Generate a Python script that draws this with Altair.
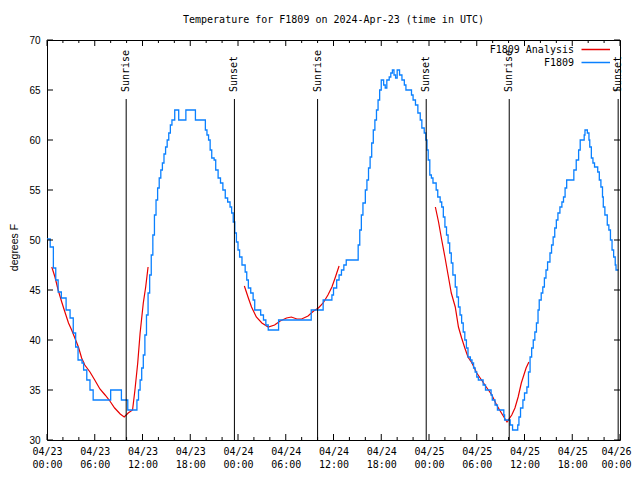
import altair as alt
import pandas as pd

# ---- data (hours since 2024-04-23 00:00 UTC) ----
obs_hours = [0.0, 0.4, 0.8, 1.1, 1.4, 1.8, 2.4, 2.9, 3.3, 3.6, 3.9, 4.4, 4.6, 5.0, 5.4, 5.8,
             8.0, 9.35, 10.15, 11.3, 11.5, 11.7, 11.9, 12.1, 12.3, 12.5, 12.7, 12.9, 13.1, 13.3,
             13.5, 13.7, 13.9, 14.1, 14.3, 14.5, 14.7, 14.9, 15.1, 15.3, 15.5, 15.7, 16.05, 16.55,
             17.45, 18.65, 19.9, 20.1, 20.3, 20.5, 20.7, 21.0, 21.2, 21.5, 21.8, 22.1, 22.4, 22.7,
             23.0, 23.2, 23.4, 23.6, 23.8, 24.0, 24.2, 24.5, 24.9, 25.1, 25.3, 25.6, 25.9, 26.1,
             26.85, 27.2, 27.5, 27.8, 29.1, 33.2, 34.7, 35.8, 36.0, 36.4, 36.7, 37.0, 37.3, 37.6,
             39.1, 39.3, 39.5, 39.7, 40.0, 40.2, 40.4, 40.6, 40.8, 41.0, 41.2, 41.4, 41.6, 41.8,
             42.0, 42.3, 42.5, 42.7, 43.0, 43.2, 43.4, 43.6, 43.8, 44.0, 44.3, 44.6, 44.9, 45.1,
             45.8, 46.0, 46.3, 46.6, 46.9, 47.1, 47.4, 47.6, 47.75, 47.9, 48.1, 48.3, 48.5, 48.9,
             49.1, 49.4, 49.6, 49.8, 50.0, 50.2, 50.4, 50.6, 50.8, 51.0, 51.3, 51.5, 51.7, 51.9,
             52.1, 52.3, 52.5, 52.7, 52.9, 53.2, 53.4, 53.6, 53.8, 54.0, 54.2, 54.8, 55.1, 55.8,
             55.95, 56.3, 56.6, 57.4, 57.5, 58.2, 58.5, 59.15, 59.3, 59.5, 59.8, 60.0, 60.3, 60.5,
             60.7, 60.9, 61.1, 61.3, 61.5, 61.7, 61.85, 62.1, 62.3, 62.5, 62.7, 62.9, 63.2, 63.4,
             63.6, 63.8, 64.0, 64.2, 64.45, 64.7, 64.9, 65.1, 65.3, 66.2, 66.5, 66.8, 67.0, 67.5,
             67.6, 67.9, 68.1, 68.2, 68.4, 68.6, 68.8, 69.2, 69.4, 69.6, 69.8, 69.9, 70.1, 70.4,
             70.6, 70.8, 71.0, 71.2, 71.4, 71.5, 71.8]
obs_temps = [50.1, 49.3, 47.2, 46.0, 44.8, 44.2, 43.0, 42.2, 40.7, 39.3, 38.0, 37.7, 37.0, 36.0, 35.0, 34.0,
             35.0, 34.0, 33.0, 34.0, 35.0, 36.0, 37.2, 38.5, 40.5, 42.5, 44.7, 46.5, 48.5, 50.5,
             52.5, 54.0, 55.2, 56.2, 57.0, 57.7, 58.6, 59.3, 60.0, 60.7, 61.5, 62.0, 63.0, 62.0,
             63.0, 62.0, 61.0, 60.5, 60.0, 59.0, 58.2, 58.0, 57.0, 56.2, 55.7, 55.0, 54.2, 53.8,
             53.3, 52.7, 51.8, 50.7, 49.8, 49.0, 48.3, 47.5, 46.8, 46.0, 45.2, 44.7, 44.0, 43.0,
             42.5, 42.0, 41.5, 41.0, 42.0, 43.0, 44.0, 44.5, 45.2, 46.0, 46.5, 47.0, 47.5, 48.0,
             49.5, 51.0, 52.5, 53.7, 55.0, 56.0, 57.2, 58.3, 59.7, 61.0, 62.0, 63.0, 64.0, 65.0,
             66.0, 65.5, 65.2, 66.0, 66.3, 66.7, 67.0, 66.5, 66.2, 67.0, 66.5, 66.0, 65.5, 65.0,
             64.5, 64.0, 63.5, 62.7, 62.0, 61.2, 60.7, 60.0, 59.0, 58.0, 56.5, 56.2, 55.7, 55.0,
             54.3, 53.8, 53.3, 52.3, 51.3, 50.5, 49.7, 48.7, 47.7, 46.5, 45.3, 44.3, 43.3, 42.5,
             41.7, 40.8, 40.0, 39.2, 38.3, 38.0, 37.7, 37.2, 36.8, 36.3, 36.0, 35.5, 35.0, 34.5,
             34.0, 33.5, 33.0, 32.5, 32.0, 31.5, 31.0, 31.5, 32.3, 33.2, 34.0, 34.7, 35.3, 36.8,
             38.3, 39.2, 40.0, 40.8, 41.7, 43.0, 44.0, 44.7, 45.3, 46.2, 47.0, 47.8, 48.7, 49.5,
             50.3, 51.2, 52.0, 52.7, 53.3, 53.8, 54.3, 55.2, 56.0, 57.0, 58.0, 59.0, 60.0, 60.5,
             61.0, 60.7, 60.0, 59.3, 58.2, 57.7, 57.3, 56.8, 56.0, 55.3, 54.3, 53.3, 52.5, 51.5,
             51.0, 50.0, 49.0, 48.3, 47.5, 47.0, 47.0]

ana_hours = [0.6, 1.0, 1.4, 1.85, 2.25, 2.7, 3.1, 3.5, 3.95, 4.35, 4.75, 5.4, 6.0, 6.65, 7.3, 7.9,
             8.5, 9.2, 9.7, 10.2, 10.75, 11.05, 11.4, 11.7, 12.1, 12.4, 12.7,
             24.8, 25.3, 25.7, 26.3, 27.0, 27.8, 28.6, 29.3, 30.1, 30.7, 31.4, 32.0, 32.8, 33.5,
             34.1, 34.7, 35.3, 35.8, 36.2, 36.7,
             48.8, 49.2, 49.6, 50.0, 50.4, 50.8, 51.3, 51.7, 52.1, 52.5, 52.9, 53.4, 54.0, 54.6,
             55.2, 55.9, 56.5, 57.1, 57.8, 58.4, 58.8, 59.2, 59.6, 60.2, 60.55]
ana_temps = [47.3, 46.3, 45.0, 43.8, 42.8, 41.7, 41.0, 40.2, 39.3, 38.2, 37.5, 36.8, 36.0, 35.1, 34.5, 33.9,
             33.2, 32.6, 32.3, 32.7, 33.0, 35.0, 37.7, 40.7, 43.7, 45.3, 47.3,
             45.4, 44.2, 43.3, 42.3, 41.7, 41.3, 41.5, 41.9, 42.2, 42.3, 42.1, 42.1, 42.4, 42.9,
             43.2, 43.7, 44.5, 45.3, 46.2, 47.4,
             53.3, 51.8, 50.0, 48.3, 46.5, 44.7, 43.3, 41.3, 40.2, 39.2, 38.3, 37.7, 36.7, 36.0,
             35.3, 34.5, 33.5, 32.7, 31.8, 32.5, 33.2, 34.3, 35.7, 37.2, 37.8]
ana_segment = [1] * 27 + [2] * 20 + [3] * 25

sun_hours = [9.95, 23.55, 34.0, 47.65, 58.08, 71.77]
sun_labels = ["Sunrise", "Sunset", "Sunrise", "Sunset", "Sunrise", "Sunset"]

x_major = list(range(0, 73, 6))
x_minor = [h for h in range(0, 73, 2) if h % 6 != 0]
y_ticks = [30, 35, 40, 45, 50, 55, 60, 65, 70]

title_text = "Temperature for F1809 on 2024-Apr-23 (time in UTC)"
series_names = ["F1809 Analysis", "F1809"]
series_colors = ["#e80000", "#0a80ff"]

# ---- layout constants ----
W, H = 573, 400
MONO = "DejaVu Sans Mono"
SANS = "Liberation Sans"

obs = pd.DataFrame({"h": obs_hours, "t": obs_temps})
ana = pd.DataFrame({"h": ana_hours, "t": ana_temps, "seg": ana_segment})
sun = pd.DataFrame({"h": sun_hours, "label": sun_labels})

xscale = alt.Scale(domain=[0, 72], nice=False, zero=False)
yscale = alt.Scale(domain=[30, 70], nice=False, zero=False)

label_expr = ("['04/' + (23 + floor(datum.value / 24)), "
              "(datum.value % 24 < 10 ? '0' : '') + (datum.value % 24) + ':00']")

x_axis = alt.Axis(values=x_major, labelExpr=label_expr, title=None, ticks=False, tickSize=0,
                  domain=False, grid=False, labelFont=MONO, labelFontSize=10, labelColor="black",
                  labelPadding=6, labelLineHeight=13, labelAngle=0, labelFlush=False,
                  labelOffset={"expr": "datum.value == 72 ? -4 : 0"})
y_axis = alt.Axis(values=y_ticks, title="degrees F", ticks=False, tickSize=0, domain=False,
                  grid=False, labelFont=SANS, labelFontSize=10, labelColor="black",
                  labelPadding=7, titleFont=SANS, titleFontSize=10.5, titleFontWeight="normal",
                  titleColor="black", titleAngle=270, titleX=-33, titleY=207,
                  titleAlign="center", titleBaseline="middle")

ana_line = alt.Chart(ana).mark_line(color=series_colors[0], strokeWidth=1.2).encode(
    x=alt.X("h:Q", scale=xscale, axis=x_axis),
    y=alt.Y("t:Q", scale=yscale, axis=y_axis),
    detail="seg:N",
)

obs_line = alt.Chart(obs).mark_line(color=series_colors[1], strokeWidth=1.3,
                                    interpolate="step-after").encode(
    x=alt.X("h:Q", scale=xscale),
    y=alt.Y("t:Q", scale=yscale),
)

sun_rules = alt.Chart(sun).mark_rule(color="black", strokeWidth=1).encode(
    x=alt.X("h:Q", scale=xscale), y=alt.value(59), y2=alt.value(H)
)
sun_text = alt.Chart(sun).mark_text(font=MONO, fontSize=10, angle=270, align="left",
                                    baseline="middle", color="black").encode(
    x=alt.X("h:Q", scale=xscale), y=alt.value(52), text="label:N"
)

# inward ticks
major_df = pd.DataFrame({"h": x_major})
minor_df = pd.DataFrame({"h": x_minor})
ytick_df = pd.DataFrame({"t": y_ticks})
tick_layers = []
for df, ln in [(major_df, 6), (minor_df, 3)]:
    tick_layers.append(alt.Chart(df).mark_rule(color="black").encode(
        x=alt.X("h:Q", scale=xscale), y=alt.value(H), y2=alt.value(H - ln)))
    tick_layers.append(alt.Chart(df).mark_rule(color="black").encode(
        x=alt.X("h:Q", scale=xscale), y=alt.value(0), y2=alt.value(ln)))
tick_layers.append(alt.Chart(ytick_df).mark_rule(color="black").encode(
    y=alt.Y("t:Q", scale=yscale), x=alt.value(0), x2=alt.value(6)))
tick_layers.append(alt.Chart(ytick_df).mark_rule(color="black").encode(
    y=alt.Y("t:Q", scale=yscale), x=alt.value(W), x2=alt.value(W - 6)))

# title
title_layer = alt.Chart(pd.DataFrame({"t": [title_text]})).mark_text(
    font=MONO, fontSize=10, align="center", baseline="middle", color="black").encode(
    x=alt.value(W / 2), y=alt.value(-20), text="t:N")

# legend
legend_layers = []
for i, (name, col) in enumerate(zip(series_names, series_colors)):
    ly = 10 + 13 * i
    ld = pd.DataFrame({"name": [name]})
    legend_layers.append(alt.Chart(ld).mark_text(
        font=MONO, fontSize=10, align="right", baseline="middle", color="black").encode(
        x=alt.value(527), y=alt.value(ly), text="name:N"))
    legend_layers.append(alt.Chart(ld).mark_rule(color=col, strokeWidth=1.5).encode(
        x=alt.value(534.5), x2=alt.value(563), y=alt.value(ly - 0.5)))

chart = alt.layer(
    ana_line, obs_line, sun_rules, sun_text, *tick_layers, title_layer, *legend_layers
).properties(
    width=W, height=H,
    autosize=alt.AutoSizeParams(type="none"),
    padding={"left": 39, "top": 32, "right": 12, "bottom": 30},
    background="white",
).configure_view(stroke="black", strokeWidth=1)

chart.save("out.html", embed_options={"renderer": "svg", "actions": False})
